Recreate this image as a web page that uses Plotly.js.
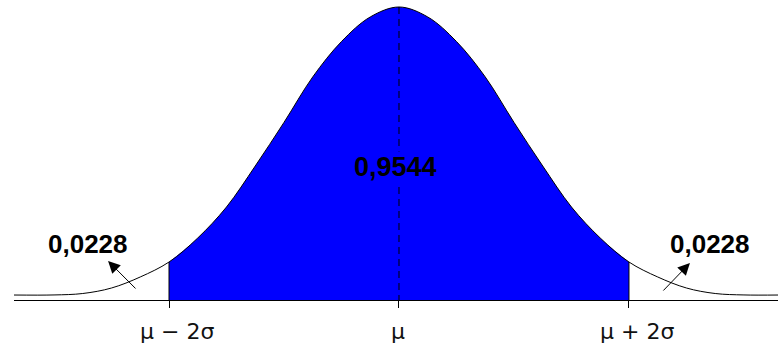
<!DOCTYPE html>
<html>
<head>
<meta charset="utf-8">
<script src="https://cdn.plot.ly/plotly-3.0.1.min.js"></script>
<style>html,body{margin:0;padding:0;background:#fff;}#chart{width:782px;height:344px;}</style>
</head>
<body>
<div id="chart"></div>
<script>
// positions along the axis, in units of sigma from the mean
const xSigma = [-3.35,-3,-2.75,-2.5,-2.25,-2,-1.75,-1.5,-1.25,-1,-0.75,-0.5,-0.25,0,0.25,0.5,0.75,1,1.25,1.5,1.75,2,2.25,2.5,2.75,3,3.3];
// curve height
const density = [0.0069,0.0070,0.0090,0.0166,0.0319,0.0526,0.0859,0.1288,0.1856,0.2460,0.3090,0.3580,0.3920,0.4058,0.3920,0.3580,0.3090,0.2460,0.1856,0.1288,0.0859,0.0526,0.0319,0.0166,0.0090,0.0070,0.0069];
// shaded interval bounds and areas
const lowerBound = -2;
const upperBound = 2;
const centralArea = "0,9544";
const tailArea = "0,0228";
// axis tick values and labels
const tickVals = [-2, 0, 2];
const tickLabels = ["\u03bc \u2212 2\u03c3", "\u03bc", "\u03bc + 2\u03c3"];

const inX = [], inY = [];
xSigma.forEach((x, i) => { if (x >= lowerBound && x <= upperBound) { inX.push(x); inY.push(density[i]); } });
const yAt = x => density[xSigma.indexOf(x)];
const peak = yAt(0);

const traces = [
  {x: inX, y: inY, type: 'scatter', mode: 'lines', fill: 'tozeroy', fillcolor: '#0000ff',
   line: {width: 0, shape: 'spline', color: '#0000ff'}, hoverinfo: 'skip'},
  {x: xSigma, y: density, type: 'scatter', mode: 'lines',
   line: {width: 1, shape: 'spline', color: '#000'}, hoverinfo: 'skip'},
  {x: [lowerBound, lowerBound, null, upperBound, upperBound], y: [yAt(lowerBound), 0, null, yAt(upperBound), 0],
   type: 'scatter', mode: 'lines', line: {width: 1, color: '#000'}, hoverinfo: 'skip'},
  {x: [0, 0], y: [peak, 0], type: 'scatter', mode: 'lines',
   line: {width: 1, color: '#000', dash: '7px,5px'}, hoverinfo: 'skip'}
];

const font = {family: 'Arial, "Liberation Sans", sans-serif', color: '#000', weight: 'bold'};
const annotations = [
  {x: 0, y: 0.184, xref: 'x', yref: 'y', text: centralArea, showarrow: false, xshift: -3,
   font: Object.assign({}, font, {size: 27}), bgcolor: '#0000ff', borderpad: 0},
  {x: -2.704, y: 0.0776, xref: 'x', yref: 'y', text: tailArea, showarrow: false,
   font: Object.assign({}, font, {size: 26})},
  {x: 2.704, y: 0.0776, xref: 'x', yref: 'y', text: tailArea, showarrow: false,
   font: Object.assign({}, font, {size: 26})},
  {x: -2.53, y: 0.054, xref: 'x', yref: 'y', text: '', showarrow: true, arrowhead: 2, arrowsize: 2.4,
   arrowwidth: 1, arrowcolor: '#000', ax: 29, ay: 29, standoff: 0},
  {x: 2.53, y: 0.0512, xref: 'x', yref: 'y', text: '', showarrow: true, arrowhead: 2, arrowsize: 2.4,
   arrowwidth: 1, arrowcolor: '#000', ax: -28, ay: 29, standoff: 0}
];
tickVals.forEach((v, i) => {
  annotations.push({x: v, y: 0, xref: 'x', yref: 'paper', yanchor: 'middle', yshift: -31,
    xshift: v === 0 ? -1 : 8, text: tickLabels[i], showarrow: false,
    font: {family: '"DejaVu Sans", sans-serif', size: 22, color: '#111'}});
});

const layout = {
  width: 782, height: 344,
  margin: {l: 14, r: 4, t: 0, b: 44, pad: 0},
  paper_bgcolor: '#fff', plot_bgcolor: '#fff',
  showlegend: false,
  xaxis: {range: [-3.348, 3.296], showgrid: false, zeroline: false, showline: true, linecolor: '#000', linewidth: 1,
          tickmode: 'array', tickvals: tickVals, ticks: 'outside', ticklen: 7, tickwidth: 1, tickcolor: '#000',
          showticklabels: false, fixedrange: true},
  yaxis: {range: [0, 0.4155], showgrid: false, zeroline: false, showline: false, showticklabels: false,
          ticks: '', fixedrange: true},
  annotations: annotations
};

Plotly.newPlot('chart', traces, layout, {staticPlot: true, displayModeBar: false});
</script>
</body>
</html>
